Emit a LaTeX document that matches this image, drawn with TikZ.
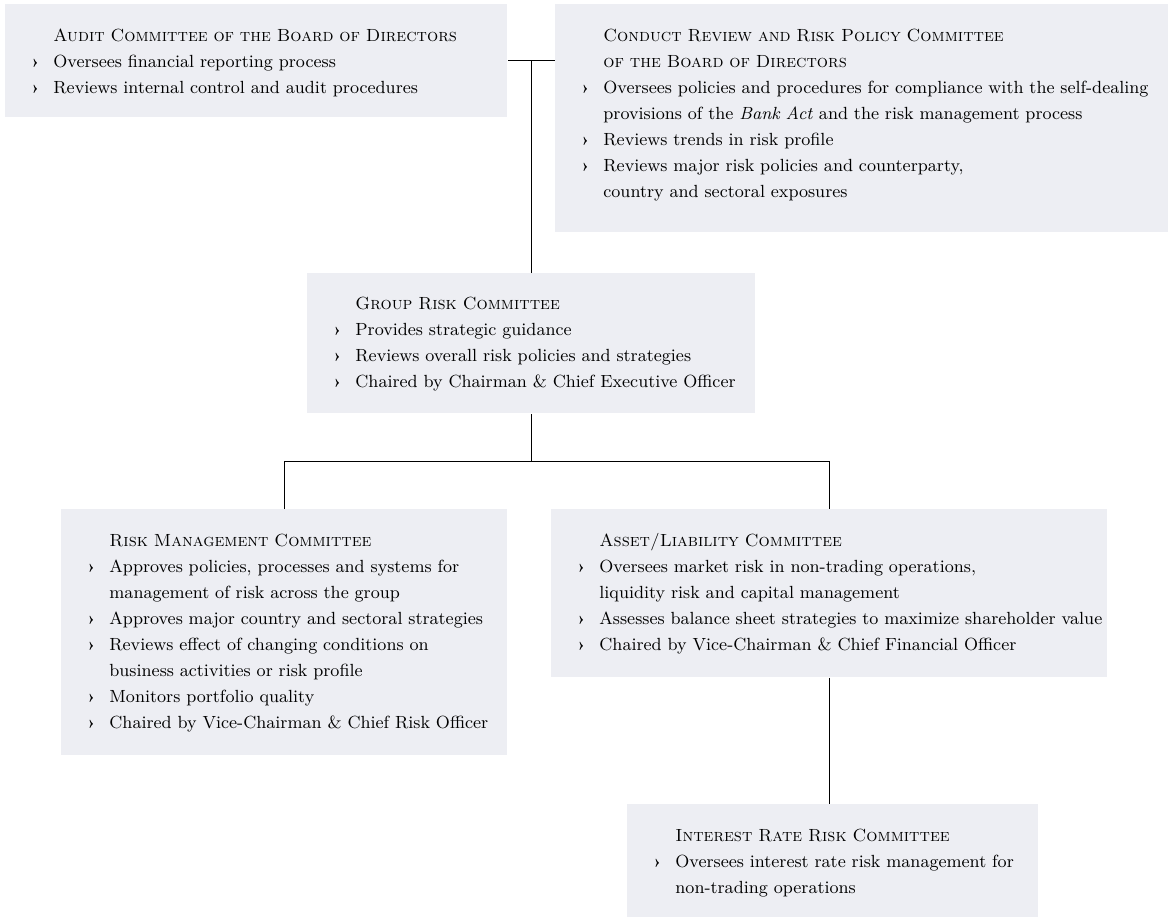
\documentclass[tikz,border=0pt]{standalone}
\usepackage{fontspec}
\usepackage{tikz}

\definecolor{boxgray}{RGB}{237,238,243}
\newcommand{\chev}{\leavevmode\llap{\textbf{›}\hspace{7pt}}}
\newcommand{\ttl}[1]{{\scshape\addfontfeature{LetterSpace=3}#1}}

\tikzset{
  panel/.style={fill=boxgray, inner sep=0pt, anchor=north west},
  panel text/.style={anchor=base west, inner sep=0pt, align=left, font=\fontsize{8.8}{13}\selectfont},
  link/.style={line width=0.5pt}
}

\begin{document}
\begin{tikzpicture}[x=0.5pt, y=-0.5pt]
        \useasboundingbox (0,0) rectangle (1168,917);

        \node[panel, minimum width=251pt, minimum height=56.5pt] (audit) at (5,4) {};
        \node[panel, minimum width=306.5pt, minimum height=114pt] (conduct) at (555,4) {};
        \node[panel, minimum width=224pt, minimum height=70pt] (group) at (307,273) {};
        \node[panel, minimum width=223pt, minimum height=123pt] (rmc) at (61,509) {};
        \node[panel, minimum width=278pt, minimum height=84pt] (alco) at (551,509) {};
        \node[panel, minimum width=205.5pt, minimum height=56.5pt] (irrc) at (627,804) {};

        \node[panel text, text width=227pt] (audit-txt) at (53,41)
              {\ttl{Audit Committee of the Board of Directors}\\
               \chev Oversees financial reporting process\\
               \chev Reviews internal control and audit procedures};
        \node[panel text, text width=282pt] (conduct-txt) at (603,41)
              {\ttl{Conduct Review and Risk Policy Committee}\\
               \ttl{of the Board of Directors}\\
               \chev Oversees policies and procedures for compliance with the self-dealing\\
               provisions of the \textit{Bank Act} and the risk management process\\
               \chev Reviews trends in risk profile\\
               \chev Reviews major risk policies and counterparty,\\
               country and sectoral exposures};
        \node[panel text, text width=200pt] (group-txt) at (355,309)
              {\ttl{Group Risk Committee}\\
               \chev Provides strategic guidance\\
               \chev Reviews overall risk policies and strategies\\
               \chev Chaired by Chairman \& Chief Executive Officer};
        \node[panel text, text width=199pt] (rmc-txt) at (109,546)
              {\ttl{Risk Management Committee}\\
               \chev Approves policies, processes and systems for\\
               management of risk across the group\\
               \chev Approves major country and sectoral strategies\\
               \chev Reviews effect of changing conditions on\\
               business activities or risk profile\\
               \chev Monitors portfolio quality\\
               \chev Chaired by Vice-Chairman \& Chief Risk Officer};
        \node[panel text, text width=270pt] (alco-txt) at (599,546)
              {\ttl{Asset/Liability Committee}\\
               \chev Oversees market risk in non-trading operations,\\
               liquidity risk and capital management\\
               \chev Assesses balance sheet strategies to maximize shareholder value\\
               \chev Chaired by Vice-Chairman \& Chief Financial Officer};
        \node[panel text, text width=180pt] (irrc-txt) at (675,841)
              {\ttl{Interest Rate Risk Committee}\\
               \chev Oversees interest rate risk management for\\
               non-trading operations};

        \path (group.south) ++(0,48) coordinate (split);

        \draw[link] (audit.east) -- (audit.east -| conduct.west);
        \draw[link] (group.north) -- (group.north |- audit.east);
        \draw[link] (group.south) -- (split);
        \draw[link] (rmc.north) |- (split) -| (alco.north);
        \draw[link] (alco.south) -- (alco.south |- irrc.north);
\end{tikzpicture}
\end{document}
